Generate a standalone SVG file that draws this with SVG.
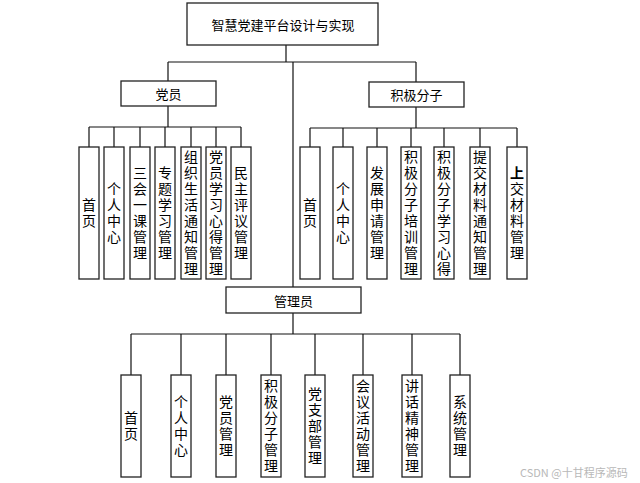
<svg xmlns="http://www.w3.org/2000/svg" width="640" height="483" viewBox="0 0 640 483">
<style>
.box{fill:#fff;stroke:#222;stroke-width:1.3}
.ln{fill:none;stroke:#111;stroke-width:1.2}
.t{font-family:"Noto Sans CJK SC","Noto Sans",sans-serif;font-size:13px;fill:#000;text-anchor:middle;dominant-baseline:central}
.v{font-family:"Noto Sans CJK SC","Noto Sans",sans-serif;font-size:14px;fill:#000;text-anchor:middle;writing-mode:vertical-rl;letter-spacing:2px}
.wm{font-family:"Noto Sans CJK SC","Noto Sans",sans-serif;font-size:11px;fill:#b8b8b8}
</style>
<rect width="640" height="483" fill="#fff"/>
<g id="connectors">
<path class="ln" d="M286 45V62M168 62H416M293 62V287"/>
<path class="ln" d="M168 62V81M168 106V127M89 127H241M89 127V147M114 127V147M140 127V147M165 127V147M191 127V147M216 127V147M241 127V147"/>
<path class="ln" d="M416 62V82M416 107V128M310 128H517M310 128V147M343 128V147M377 128V147M411 128V147M444 128V147M480 128V147M517 128V147"/>
<path class="ln" d="M293 313V334M131 334H460M131 334V375M181 334V375M226 334V375M271 334V375M315 334V375M363 334V375M412 334V375M460 334V375"/>
</g>
<g id="title"><rect class="box" x="187" y="3" width="191" height="42"/><text class="t" x="283" y="24">智慧党建平台设计与实现</text></g>
<g id="dangyuan"><rect class="box" x="121" y="81" width="95" height="25"/><text class="t" x="168.5" y="93.5">党员</text></g>
<g id="jiji"><rect class="box" x="369" y="82" width="95" height="25"/><text class="t" x="416.5" y="94.5">积极分子</text></g>
<g id="guanli"><rect class="box" x="226" y="287" width="135" height="26"/><text class="t" x="293.5" y="300">管理员</text></g>

<g id="d1"><rect class="box" x="79" y="147" width="20" height="132"/><text class="v" x="89" y="214">首页</text></g>
<g id="d2"><rect class="box" x="104" y="147" width="20" height="132"/><text class="v" x="114" y="214">个人中心</text></g>
<g id="d3"><rect class="box" x="130" y="147" width="20" height="132"/><text class="v" x="140" y="214">三会一课管理</text></g>
<g id="d4"><rect class="box" x="155" y="147" width="20" height="132"/><text class="v" x="165" y="214">专题学习管理</text></g>
<g id="d5"><rect class="box" x="181" y="147" width="20" height="132"/><text class="v" x="191" y="214">组织生活通知管理</text></g>
<g id="d6"><rect class="box" x="206" y="147" width="20" height="132"/><text class="v" x="216" y="214">党员学习心得管理</text></g>
<g id="d7"><rect class="box" x="231" y="147" width="20" height="132"/><text class="v" x="241" y="214">民主评议管理</text></g>

<g id="j1"><rect class="box" x="300" y="147" width="20" height="132"/><text class="v" x="310" y="214">首页</text></g>
<g id="j2"><rect class="box" x="333" y="147" width="20" height="132"/><text class="v" x="343" y="214">个人中心</text></g>
<g id="j3"><rect class="box" x="367" y="147" width="20" height="132"/><text class="v" x="377" y="214">发展申请管理</text></g>
<g id="j4"><rect class="box" x="401" y="147" width="20" height="132"/><text class="v" x="411" y="214">积极分子培训管理</text></g>
<g id="j5"><rect class="box" x="434" y="147" width="20" height="132"/><text class="v" x="444" y="214">积极分子学习心得</text></g>
<g id="j6"><rect class="box" x="470" y="147" width="20" height="132"/><text class="v" x="480" y="214">提交材料通知管理</text></g>
<g id="j7"><rect class="box" x="507" y="147" width="20" height="132"/><text class="v" x="517" y="214"><tspan font-weight="bold">上</tspan>交材料管理</text></g>

<g id="g1"><rect class="box" x="121" y="375" width="20" height="102"/><text class="v" x="131" y="427">首页</text></g>
<g id="g2"><rect class="box" x="171" y="375" width="20" height="102"/><text class="v" x="181" y="427">个人中心</text></g>
<g id="g3"><rect class="box" x="216" y="375" width="20" height="102"/><text class="v" x="226" y="427">党员管理</text></g>
<g id="g4"><rect class="box" x="261" y="375" width="20" height="102"/><text class="v" x="271" y="427">积极分子管理</text></g>
<g id="g5"><rect class="box" x="305" y="375" width="20" height="102"/><text class="v" x="315" y="427">党支部管理</text></g>
<g id="g6"><rect class="box" x="353" y="375" width="20" height="102"/><text class="v" x="363" y="427">会议活动管理</text></g>
<g id="g7"><rect class="box" x="402" y="375" width="20" height="102"/><text class="v" x="412" y="427">讲话精神管理</text></g>
<g id="g8"><rect class="box" x="450" y="375" width="20" height="102"/><text class="v" x="460" y="427">系统管理</text></g>

<text class="wm" x="520" y="477">CSDN @十甘程序源码</text>
</svg>
